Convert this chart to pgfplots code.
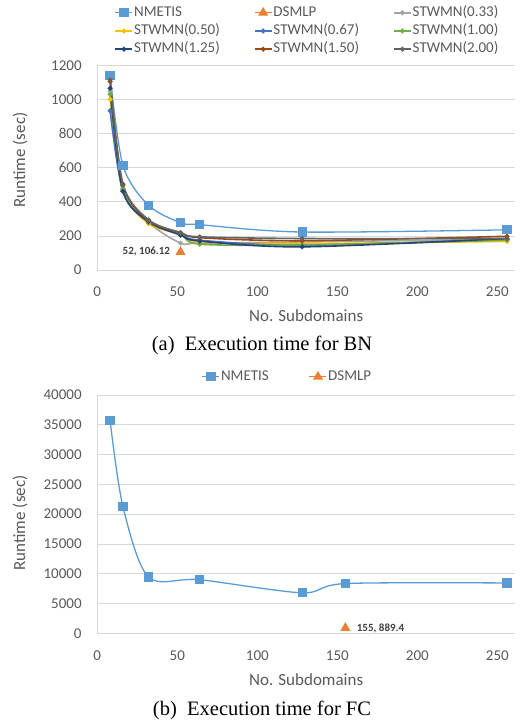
\documentclass[border=0pt]{standalone}
\usepackage{fontspec}
\setmainfont{Carlito}
\newfontfamily\capfont{Liberation Serif}
\usepackage{pgfplots}
\pgfplotsset{compat=1.18}
\definecolor{cN}{HTML}{5B9BD5}
\definecolor{cD}{HTML}{ED7D31}
\definecolor{c033}{HTML}{A5A5A5}
\definecolor{c050}{HTML}{FFC000}
\definecolor{c067}{HTML}{4472C4}
\definecolor{c100}{HTML}{70AD47}
\definecolor{c125}{HTML}{264478}
\definecolor{c150}{HTML}{9E480E}
\definecolor{c200}{HTML}{636363}
\definecolor{txt}{HTML}{595959}
\definecolor{lbl}{HTML}{404040}
\definecolor{gridc}{HTML}{D9D9D9}
\pgfplotsset{
  base/.style={
    scale only axis, width=417.7bp, xmin=0, xmax=261, ymin=0,
    axis x line*=bottom, axis y line*=left,
    axis line style={gridc, line width=0.8bp, -},
    ymajorgrids, major grid style={gridc, line width=0.8bp},
    major tick length=0pt,
    xtick={0,50,...,250},
    scaled y ticks=false, scaled x ticks=false,
    tick label style={font=\fontsize{15bp}{18bp}\selectfont, text=txt},
    /pgf/number format/assume math mode=true,
    /pgf/number format/1000 sep={},
    yticklabel style={inner sep=0pt, xshift=-15.5bp, /pgf/number format/fixed},
    xticklabel style={inner sep=0pt, yshift=-17bp},
    label style={font=\fontsize{17bp}{20bp}\selectfont, text=txt},
    xlabel style={at={(axis description cs:0.5,0)}, anchor=center, yshift=-46bp},
    xlabel={No. Subdomains}, ylabel={Runtime (sec)},
    legend cell align=left,
    legend style={draw=none, fill=none, font=\fontsize{15bp}{18bp}\selectfont, text=txt,
      nodes={inner sep=1bp, text height=10bp, text depth=3bp},
      row sep=3.2bp,
      /tikz/every even column/.append style={column sep=33bp}},
  },
  stw/.style={smooth, line width=1.6bp, mark=*, mark size=1.6bp},
}
\begin{document}
\begin{tikzpicture}
\useasboundingbox (0,0) rectangle (524bp,721bp);
% ---------- (a) BN ----------
\begin{axis}[base, at={(97.3bp,451bp)}, anchor=south west, height=204.3bp,
  ymax=1200, ytick={0,200,...,1200},
  ylabel style={at={(axis description cs:-0.185,0.538)}, anchor=center},
  legend columns=3,
  legend style={at={(0.502,1.170)}, anchor=center}]
\addplot[color=cN, mark=square*, mark size=4bp, line width=1.3bp, smooth] coordinates
  {(8,1143) (16,615) (32,380) (52,278) (64,266) (128,223) (256,236)};
\addlegendentry{NMETIS}
\addplot[color=cD, mark=triangle*, mark size=4.5bp, line width=1.3bp] coordinates {(52,106.12)};
\addlegendentry{DSMLP}
\addplot[stw, color=c033] coordinates
  {(8,1050) (16,480) (32,280) (52,158) (64,158) (128,165) (256,180)};
\addlegendentry{STWMN(0.33)}
\addplot[stw, color=c050] coordinates
  {(8,1003) (16,470) (32,272) (52,212) (64,165) (128,155) (256,168)};
\addlegendentry{STWMN(0.50)}
\addplot[stw, color=c067] coordinates
  {(8,936) (16,462) (32,280) (52,210) (64,175) (128,145) (256,180)};
\addlegendentry{STWMN(0.67)}
\addplot[stw, color=c100] coordinates
  {(8,1032) (16,475) (32,282) (52,212) (64,152) (128,148) (256,175)};
\addlegendentry{STWMN(1.00)}
\addplot[stw, color=c125] coordinates
  {(8,1068) (16,463) (32,285) (52,205) (64,170) (128,136) (256,185)};
\addlegendentry{STWMN(1.25)}
\addplot[stw, color=c150] coordinates
  {(8,1107) (16,500) (32,290) (52,220) (64,190) (128,172) (256,198)};
\addlegendentry{STWMN(1.50)}
\addplot[stw, color=c200] coordinates
  {(8,1118) (16,505) (32,295) (52,218) (64,195) (128,185) (256,185)};
\addlegendentry{STWMN(2.00)}
\node[anchor=east, xshift=-7bp, text=lbl, font=\bfseries\fontsize{11bp}{13bp}\selectfont]
  at (axis cs:52,106.12) {52, 106.12};
\end{axis}
% ---------- (b) FC ----------
\begin{axis}[base, at={(97.3bp,87.7bp)}, anchor=south west, height=238.3bp,
  ymax=40000, ytick={0,5000,...,40000},
  ylabel style={at={(axis description cs:-0.185,0.463)}, anchor=center},
  legend columns=2,
  legend style={at={(0.454,1.077)}, anchor=center,
    /tikz/every even column/.append style={column sep=39bp}}]
\addplot[color=cN, mark=square*, mark size=4bp, line width=1.3bp, smooth] coordinates
  {(8,35700) (16,21300) (32,9450) (64,9000) (128,6800) (155,8350) (256,8450)};
\addlegendentry{NMETIS}
\addplot[color=cD, mark=triangle*, mark size=4.5bp, line width=1.3bp] coordinates {(155,889.4)};
\addlegendentry{DSMLP}
\node[anchor=west, xshift=8bp, text=lbl, font=\bfseries\fontsize{11bp}{13bp}\selectfont]
  at (axis cs:155,889.4) {155, 889.4};
\end{axis}
\node[font=\capfont\fontsize{20.5bp}{24bp}\selectfont, text=black] at (262bp,376bp) {(a)\ \ Execution time for BN};
\node[font=\capfont\fontsize{20.5bp}{24bp}\selectfont, text=black] at (262bp,11bp) {(b)\ \ Execution time for FC};
\end{tikzpicture}
\end{document}
